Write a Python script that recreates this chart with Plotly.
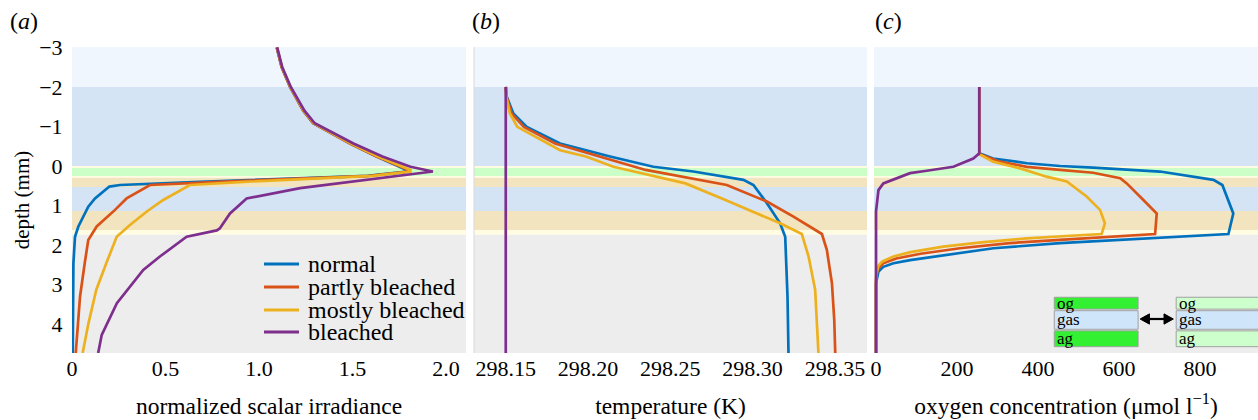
import plotly.graph_objects as go

# ---------------- data ----------------
series_names = ["normal", "partly bleached", "mostly bleached", "bleached"]
series_colors = ["#0072BD", "#D95319", "#EDB120", "#7E2F8E"]

# (a) normalized scalar irradiance vs depth (mm)
irr_depth_normal = [-3.0, -2.5, -2.0, -1.4, -1.08, -0.9, -0.57, -0.24, 0.02, 0.10, 0.14, 0.25, 0.40, 0.48, 0.52, 0.82, 1.03, 1.53, 1.79, 2.46, 4.73]
irr_normal = [1.095, 1.121, 1.166, 1.237, 1.290, 1.362, 1.487, 1.629, 1.754, 1.79, 1.79, 1.58, 0.68, 0.257, 0.20, 0.123, 0.087, 0.034, 0.016, 0.0075, 0.004]

irr_depth_partly = [-3.0, -2.5, -2.0, -1.4, -1.08, -0.9, -0.57, -0.24, 0.02, 0.10, 0.14, 0.25, 0.40, 0.48, 0.82, 1.11, 1.53, 1.87, 2.46, 3.3, 4.73]
irr_partly = [1.095, 1.121, 1.166, 1.237, 1.290, 1.362, 1.487, 1.629, 1.754, 1.80, 1.80, 1.59, 0.78, 0.417, 0.292, 0.23, 0.132, 0.087, 0.068, 0.043, 0.02]

irr_depth_mostly = [-3.0, -2.5, -2.0, -1.4, -1.08, -0.9, -0.57, -0.24, 0.02, 0.10, 0.14, 0.25, 0.40, 0.48, 0.86, 1.15, 1.49, 1.79, 2.38, 3.13, 3.98, 4.73]
irr_mostly = [1.097, 1.123, 1.168, 1.240, 1.294, 1.366, 1.492, 1.636, 1.762, 1.81, 1.81, 1.61, 0.92, 0.63, 0.488, 0.40, 0.31, 0.239, 0.19, 0.13, 0.088, 0.057]

irr_depth_bleached = [-3.0, -2.5, -2.0, -1.4, -1.08, -0.9, -0.57, -0.24, 0.02, 0.14, 0.21, 0.35, 0.56, 0.82, 1.20, 1.58, 1.63, 1.79, 2.29, 2.63, 3.47, 4.27, 4.73]
irr_bleached = [1.097, 1.124, 1.170, 1.243, 1.298, 1.372, 1.505, 1.660, 1.810, 1.93, 1.81, 1.575, 1.22, 0.934, 0.845, 0.79, 0.774, 0.613, 0.47, 0.381, 0.240, 0.159, 0.14]

# (b) temperature (K) vs depth (mm)
temp_depth_normal = [-2.0, -1.75, -1.33, -0.99, -0.57, -0.24, 0.02, 0.14, 0.35, 0.48, 0.94, 1.45, 1.79, 3.3, 4.73]
temp_normal = [298.15, 298.1506, 298.1546, 298.1628, 298.1830, 298.2134, 298.2397, 298.2640, 298.2944, 298.3005, 298.3087, 298.3167, 298.3198, 298.3212, 298.3218]

temp_depth_partly = [-2.0, -1.75, -1.33, -0.99, -0.57, -0.24, 0.10, 0.48, 0.90, 1.28, 1.72, 2.12, 2.97, 3.89, 4.73]
temp_partly = [298.15, 298.1505, 298.1535, 298.1610, 298.1800, 298.2070, 298.2350, 298.2843, 298.3087, 298.3248, 298.3421, 298.3451, 298.3482, 298.3496, 298.3502]

temp_depth_mostly = [-2.0, -1.75, -1.33, -0.99, -0.40, -0.24, 0.02, 0.44, 0.86, 1.45, 1.72, 2.29, 3.13, 4.73]
temp_mostly = [298.15, 298.1503, 298.1525, 298.1570, 298.1830, 298.1987, 298.2154, 298.2592, 298.2835, 298.3167, 298.3299, 298.3340, 298.3380, 298.3400]

temp_depth_bleached = [-2.0, 4.73]
temp_bleached = [298.15, 298.15]

# (c) oxygen concentration (umol/l) vs depth (mm)
oxy_depth_normal = [-2.0, -0.32, -0.19, -0.07, 0.0, 0.04, 0.14, 0.27, 0.35, 0.48, 1.20, 1.72, 1.77, 1.87, 1.95, 2.08, 2.25, 2.38, 2.46, 2.55, 2.67, 2.96, 4.73]
oxy_normal = [255, 255, 289, 373, 454, 536, 701, 783, 833, 855, 882, 870, 782, 619, 454, 290, 166, 84, 43, 18, 6, 0, 0]

oxy_depth_partly = [-2.0, -0.30, -0.11, 0.02, 0.10, 0.17, 0.31, 0.44, 0.86, 1.20, 1.72, 1.77, 1.87, 1.95, 2.08, 2.22, 2.34, 2.46, 2.62, 2.9, 4.73]
oxy_partly = [255, 255, 306, 372, 454, 536, 603, 619, 660, 693, 689, 600, 454, 330, 207, 110, 50, 18, 3, 0, 0]

oxy_depth_mostly = [-2.0, -0.30, -0.11, 0.06, 0.27, 0.39, 0.77, 1.11, 1.45, 1.72, 1.77, 1.83, 1.93, 2.04, 2.18, 2.29, 2.42, 2.54, 2.8, 4.73]
oxy_mostly = [255, 255, 289, 356, 421, 471, 520, 553, 565, 557, 470, 372, 260, 166, 85, 43, 15, 5, 0, 0]

oxy_depth_bleached = [-2.0, -0.32, -0.19, 0.02, 0.12, 0.18, 0.44, 0.61, 1.15, 4.73]
oxy_bleached = [255, 255, 240, 191, 125, 84, 18, 6, 0, 0]

# background tissue layers (depth edges, mm)
band_edges = [-3.01, -2.0, 0.0, 0.05, 0.25, 0.30, 0.53, 1.14, 1.62, 1.74, 4.73]
band_colors = ["#eff6fd", "#d4e4f4", "#fffce2", "#ccffc8", "#fffce2", "#f3e4c0",
               "#d4e4f4", "#f3e4c0", "#fffce2", "#ededed"]

# axis ticks
depth_ticks = [-3, -2, -1, 0, 1, 2, 3, 4]
irr_ticks = [0, 0.5, 1.0, 1.5, 2.0]
irr_ticktext = ["0", "0.5", "1.0", "1.5", "2.0"]
temp_ticks = [298.15, 298.20, 298.25, 298.30, 298.35]
temp_ticktext = ["298.15", "298.20", "298.25", "298.30", "298.35"]
oxy_ticks = [0, 200, 400, 600, 800]

# inset (layer schematic)
inset_labels = ["og", "gas", "ag"]
inset_left_colors = ["#33f033", "#cfe5fa", "#33f033"]
inset_right_colors = ["#ccffcc", "#cfe5fa", "#ccffcc"]
inset_row_edges = [3.30, 3.64, 4.15, 4.59]

# ---------------- figure ----------------
FONT = "Liberation Serif"
W, H = 1258, 420
ML, MR, MT, MB = 72, 0, 47, 67
PW = W - ML - MR
PH = H - MT - MB


def px(xp):
    return (xp - ML) / PW


def py(yp):
    return (H - MB - yp) / PH


fig = go.Figure()

panel_a = [(irr_normal, irr_depth_normal), (irr_partly, irr_depth_partly),
           (irr_mostly, irr_depth_mostly), (irr_bleached, irr_depth_bleached)]
panel_b = [(temp_normal, temp_depth_normal), (temp_partly, temp_depth_partly),
           (temp_mostly, temp_depth_mostly), (temp_bleached, temp_depth_bleached)]
panel_c = [(oxy_normal, oxy_depth_normal), (oxy_partly, oxy_depth_partly),
           (oxy_mostly, oxy_depth_mostly), (oxy_bleached, oxy_depth_bleached)]

for axis, data in (("x", panel_a), ("x2", panel_b), ("x3", panel_c)):
    for (xs, ys), name, color in zip(data, series_names, series_colors):
        fig.add_trace(go.Scatter(
            x=xs, y=ys, mode="lines", name=name, xaxis=axis, yaxis="y",
            line=dict(color=color, width=2.7), showlegend=False,
            hovertemplate=name + ": %{x}<br>depth %{y} mm<extra></extra>"))

shapes = []
for axis in ("x", "x2", "x3"):
    for y0, y1, c in zip(band_edges[:-1], band_edges[1:], band_colors):
        shapes.append(dict(type="rect", xref=axis + " domain", yref="y",
                           x0=0, x1=1, y0=y0, y1=y1, fillcolor=c,
                           line=dict(width=0), layer="below"))
# thin border at the left of panel (b)
shapes.append(dict(type="line", xref="x2 domain", yref="y", x0=0, x1=0,
                   y0=band_edges[0], y1=band_edges[-1],
                   line=dict(color="#d8d8d8", width=1)))

annotations = []

# manual legend inside panel (a)
leg_rows = [264, 287, 310, 332]
for name, color, yr in zip(series_names, series_colors, leg_rows):
    shapes.append(dict(type="line", xref="paper", yref="paper",
                       x0=px(264), x1=px(299), y0=py(yr), y1=py(yr),
                       line=dict(color=color, width=2.8)))
    annotations.append(dict(text=name, xref="paper", yref="paper",
                            x=px(306), y=py(yr), xanchor="left", yanchor="middle",
                            showarrow=False, font=dict(family=FONT, size=24, color="black")))

# inset schematic in panel (c) (positioned in x3 / depth units)
for x0, x1, colors in ((440, 647, inset_left_colors), (741, 960, inset_right_colors)):
    for (y0, y1), c, lab in zip(zip(inset_row_edges[:-1], inset_row_edges[1:]), colors, inset_labels):
        shapes.append(dict(type="rect", xref="x3", yref="y", x0=x0, x1=x1,
                           y0=y0 + 0.02, y1=y1 - 0.02, fillcolor=c,
                           line=dict(color="#a0a0a0", width=1)))
        annotations.append(dict(text=lab, xref="x3", yref="y", x=x0 + 2, y=(y0 + y1) / 2,
                                xanchor="left", yanchor="middle", showarrow=False,
                                font=dict(family=FONT, size=17, color="black")))
# double-headed arrow between the two schematics
ay, ah = 3.87, 0.13
shapes.append(dict(type="line", xref="x3", yref="y", x0=668, x1=718, y0=ay, y1=ay,
                   line=dict(color="black", width=2.2)))
shapes.append(dict(type="path", xref="x3", yref="y",
                   path=f"M 652 {ay} L 675 {ay - ah} L 675 {ay + ah} Z",
                   fillcolor="black", line=dict(color="black", width=1)))
shapes.append(dict(type="path", xref="x3", yref="y",
                   path=f"M 734 {ay} L 711 {ay - ah} L 711 {ay + ah} Z",
                   fillcolor="black", line=dict(color="black", width=1)))

# panel letters
for letter, xp in (("a", 8), ("b", 470), ("c", 873)):
    annotations.append(dict(text="(<i>%s</i>)" % letter, xref="paper", yref="paper",
                            x=px(xp), y=py(21), xanchor="left", yanchor="middle",
                            showarrow=False, font=dict(family=FONT, size=24, color="black")))

tickfont = dict(family=FONT, size=22, color="black")
titlefont = dict(family=FONT, size=23.5, color="black")
common_x = dict(showgrid=False, zeroline=False, showline=False, ticks="",
                tickfont=tickfont, anchor="y", automargin=False)

fig.update_layout(
    width=W, height=H,
    margin=dict(l=ML, r=MR, t=MT, b=MB, autoexpand=False),
    paper_bgcolor="white", plot_bgcolor="white",
    font=dict(family=FONT, color="black"),
    showlegend=False,
    shapes=shapes, annotations=annotations,
    xaxis=dict(domain=[0, px(466)], range=[0, 2.107], tickvals=irr_ticks, ticktext=irr_ticktext,
               title=dict(text="normalized scalar irradiance", font=titlefont, standoff=17), **common_x),
    xaxis2=dict(domain=[px(474), px(867)], range=[298.1307, 298.3695], tickvals=temp_ticks,
                ticktext=temp_ticktext,
                title=dict(text="temperature (K)", font=titlefont, standoff=17), **common_x),
    xaxis3=dict(domain=[px(874), 1.0], range=[-5, 943], tickvals=oxy_ticks,
                title=dict(text="oxygen concentration (μmol l<sup>−1</sup>)", font=titlefont, standoff=17),
                **common_x),
    yaxis=dict(range=[band_edges[-1], band_edges[0]], tickvals=depth_ticks, showgrid=False,
               zeroline=False, showline=False, ticks="outside", ticklen=4,
               tickcolor="rgba(0,0,0,0)", tickfont=tickfont, anchor="x", automargin=False,
               title=dict(text="depth (mm)", font=dict(family=FONT, size=21, color="black"), standoff=3)),
)

fig.write_html("out.html", config={"displayModeBar": False},
               post_script="document.body.style.margin='0';document.body.style.overflow='hidden';")
